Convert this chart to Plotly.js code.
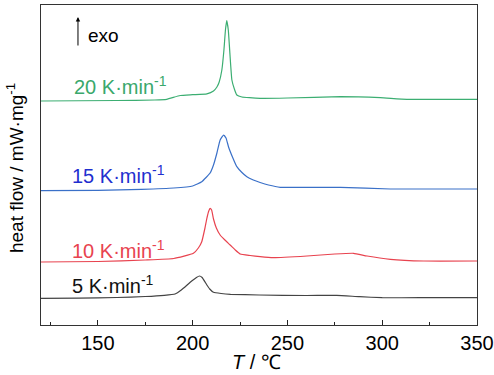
<!DOCTYPE html>
<html>
<head>
<meta charset="utf-8">
<script src="https://cdn.plot.ly/plotly-3.0.1.min.js"></script>
<style>html,body{margin:0;padding:0;background:#fff;}#chart{width:494px;height:375px;}</style>
</head>
<body>
<div id="chart"></div>
<script>
// Temperature (°C) and heat flow (arbitrary offset units, exo up)
const T5  = [120,140,160,175,185,190.7,194,198.7,202,203.6,205,207.5,209,211,215,220,235,260,276,288,300,320,350];
const H5  = [26.7,26.8,27.5,28.5,29.7,31,35,42.7,47.5,49,47.5,40,36,32.7,31.5,30.7,30,29.5,29.7,28.3,27.3,27.3,27.3];

const T10 = [120,150,175,190,200.4,203,204.8,206.5,207.5,208.5,209.2,210,211,212.5,214.5,217,219.8,222.5,225.1,230.3,235.6,242.6,260.3,275,284.9,292,304.3,322,350];
const H10 = [63,63.5,65,66.5,71.7,77,83.3,97,106.7,114,116.7,115,106,97,90,85,80,75,71,69.5,68.3,67.3,69,71,71.7,69,65.7,64,64];

const T15 = [120,150,173,190,200,204.8,209.2,211,212.8,214.5,216.3,217.6,218.9,221,223.3,226,228.6,232,235.6,240,246.2,278,304.3,350];
const H15 = [134.3,134.7,135.7,137,139,143.3,152,160,172,185,190,187,178.3,168,158.3,152.5,148.3,145,142.5,140,137.7,137.7,136,136];

const T20 = [120,160,180,186.3,193.4,200,207.5,211,212.8,214,215.4,216.5,217.3,218,218.8,219.7,220.7,222,223.3,226,230,235.6,250,278,299,313,350];
const H20 = [224,224.5,225,225.7,229.5,230.3,231.2,234,238,243,255,275,295,304.3,295,270,245,236,230,228,227.3,226.7,227,228.3,227.3,225.7,225.7];

const seriesNames = ["5 K·min<sup>-1</sup>","10 K·min<sup>-1</sup>","15 K·min<sup>-1</sup>","20 K·min<sup>-1</sup>"];
const xTicks = [150,200,250,300,350];

const lineColors = ["#444444","#e8434f","#3a70c8","#3cae72"];
const textColors = ["#111111","#e8434f","#1f2fcf","#3aa86c"];

const FONT = "Liberation Sans, Arial, sans-serif";

const xs = [T5,T10,T15,T20], ys = [H5,H10,H15,H20];
const traces = xs.map((x,i)=>({
  x: x, y: ys[i], type:'scatter', mode:'lines', name: seriesNames[i],
  line:{color: lineColors[i], width:1.2, shape:'spline', smoothing:0.4},
  hoverinfo:'skip', showlegend:false
}));

// label anchor positions (x in °C, y in data units)
const labelX = [135.3,135.3,135.3,136.2];
const labelY = [41,76,151,240];
const annotations = seriesNames.map((s,i)=>({
  x: labelX[i], y: labelY[i], xref:'x', yref:'y', text: s, showarrow:false,
  xanchor:'left', yanchor:'middle', font:{family:FONT, size:20, color:textColors[i]}
}));
annotations.push({
  x: 139.5, y: 308, xref:'x', yref:'y', ax:0, ay:30, text:'', showarrow:true,
  arrowhead:2, arrowsize:0.9, arrowwidth:1, arrowcolor:'#000'
});
annotations.push({
  x: 143.5, y: 290, xref:'x', yref:'y', text:'exo', showarrow:false,
  xanchor:'left', yanchor:'middle', font:{family:FONT, size:19, color:'#000'}
});
annotations.push({
  x: -0.06, y: 0.49, xref:'paper', yref:'paper', text:'heat flow / mW·mg<sup>-1</sup>',
  textangle:-90, showarrow:false, xanchor:'center', yanchor:'middle',
  font:{family:FONT, size:19, color:'#000'}
});
annotations.push({
  x: 0.495, y: -0.116, xref:'paper', yref:'paper', text:'<i>T</i> / ℃',
  showarrow:false, xanchor:'center', yanchor:'middle',
  font:{family:FONT, size:20, color:'#000'}
});

const layout = {
  width:494, height:375,
  margin:{l:41, r:17, t:5, b:50},
  paper_bgcolor:'#fff', plot_bgcolor:'#fff',
  showlegend:false,
  xaxis:{
    range:[120,350], tickvals:xTicks, ticktext:xTicks.map(String),
    ticks:'inside', ticklen:5, tickwidth:1, tickcolor:'#222',
    minor:{dtick:25, tick0:0, ticks:'inside', ticklen:3, tickwidth:1, tickcolor:'#222'},
    showline:true, linecolor:'#333', linewidth:1.2, mirror:true,
    showgrid:false, zeroline:false, ticklabeloverflow:'allow',
    tickfont:{family:FONT, size:20, color:'#000'}
  },
  yaxis:{
    range:[0,320], showticklabels:false, ticks:'',
    showline:true, linecolor:'#333', linewidth:1.2, mirror:true,
    showgrid:false, zeroline:false
  },
  annotations: annotations
};

Plotly.newPlot('chart', traces, layout, {displayModeBar:false, staticPlot:true});
</script>
</body>
</html>
